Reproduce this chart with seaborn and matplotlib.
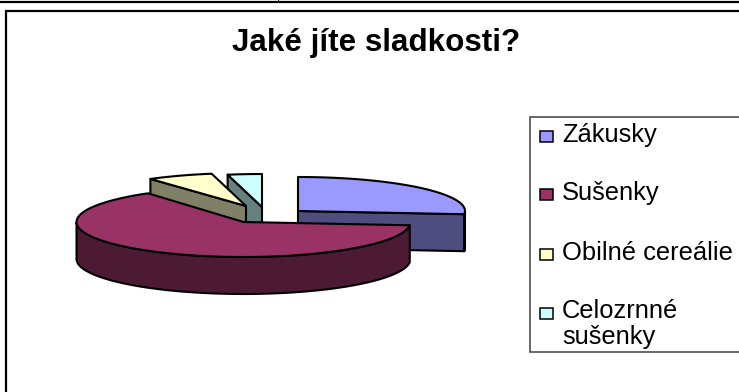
import numpy as np
import matplotlib
matplotlib.use("Agg")
import matplotlib.pyplot as plt
from matplotlib.patches import Polygon, Rectangle
import seaborn as sns

title = "Jaké jíte sladkosti?"
categories = ["Zákusky", "Sušenky", "Obilné cereálie", "Celozrnné\nsušenky"]
values = [26.5, 63.8, 6.4, 3.3]
colors = ["#9999FF", "#993366", "#FFFFCC", "#CCFFFF"]

# Pie geometry in figure pixels: apex of each exploded slice, ellipse radii, wall depth
apex_x = [298, 243.5, 246, 262]
apex_y = [211, 222, 206, 207]
radius_x = 167
radius_y = [34, 35, 33, 33]
depth = 37
draw_order = [3, 2, 0, 1]

W, H = 739, 392
sns.set_theme(style="white", font="Liberation Sans")
plt.rcParams["font.family"] = ["Liberation Sans", "DejaVu Sans"]
palette = sns.color_palette(colors)

fig = plt.figure(figsize=(W / 100, H / 100), dpi=100, facecolor="white")
ax = fig.add_axes([0, 0, 1, 1])
ax.set_xlim(0, W)
ax.set_ylim(H, 0)
ax.axis("off")

# Slices run clockwise from 12 o'clock
edges = np.concatenate([[0], np.cumsum(values)]) / np.sum(values) * 2 * np.pi


def draw_slice(i):
    cx, cy, ry = apex_x[i], apex_y[i], radius_y[i]
    t = np.linspace(edges[i], edges[i + 1], 120)
    rim_x = cx + radius_x * np.sin(t)
    rim_y = cy - ry * np.cos(t)
    top = palette[i]
    side = tuple(c * 0.5 for c in top)
    style = dict(edgecolor="black", linewidth=1.5, joinstyle="round")

    # Only cut faces turned towards the viewer get drawn, then the outer wall and top
    for k, facing in ((0, np.sin(t[0]) < 0), (-1, np.sin(t[-1]) > 0)):
        if facing:
            quad = [(cx, cy), (rim_x[k], rim_y[k]),
                    (rim_x[k], rim_y[k] + depth), (cx, cy + depth)]
            ax.add_patch(Polygon(quad, closed=True, facecolor=side, **style))
    front = np.cos(t) <= 0
    if front.any():
        fx, fy = rim_x[front], rim_y[front]
        wall = np.column_stack([np.r_[fx, fx[::-1]], np.r_[fy, fy[::-1] + depth]])
        ax.add_patch(Polygon(wall, closed=True, facecolor=side, **style))
    surface = np.column_stack([np.r_[cx, rim_x], np.r_[cy, rim_y]])
    ax.add_patch(Polygon(surface, closed=True, facecolor=top, **style))


for i in draw_order:
    draw_slice(i)

ax.text(376, 42.5, title, ha="center", va="center", fontsize=22.6, fontweight="bold", color="black")

# Outer frame lines
ax.plot([0, W], [1.5, 1.5], color="black", lw=1.6)
ax.plot([278, 278], [0, 2], color="black", lw=0.8)
ax.plot([W, 6, 6], [10.5, 10.5, H], color="black", lw=1.6, solid_joinstyle="miter")

# Legend box, open towards the right edge
ax.plot([W, 529.5, 529.5, W], [116.5, 116.5, 352, 352], color="#404040", lw=1.1, solid_joinstyle="miter")
marker_y = [136, 194.5, 254, 313]
text_y = [135, 193, 253, 311]
for label, c, my, ty in zip(categories, palette, marker_y, text_y):
    ax.add_patch(Rectangle((539.5, my - 5.5), 13, 11, facecolor=c, edgecolor="black", linewidth=1.1))
    first, *rest = label.split("\n")
    ax.text(562, ty, first, ha="left", va="center", fontsize=18.4, color="black")
    for n, extra in enumerate(rest, start=1):
        ax.text(562, ty + 26 * n, extra, ha="left", va="center", fontsize=18.4, color="black")

fig.savefig("out.png", dpi=100, facecolor="white")
